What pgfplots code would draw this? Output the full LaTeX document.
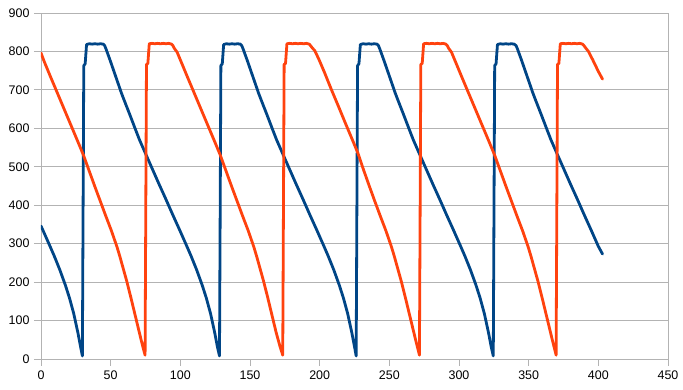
\documentclass[border=0pt]{standalone}
\usepackage{fontspec}
\setmainfont{Liberation Sans}
\usepackage{pgfplots}
\pgfplotsset{compat=1.18}
\definecolor{lobl}{HTML}{004586}
\definecolor{loor}{HTML}{FF420E}
\definecolor{grd}{HTML}{B3B3B3}
\begin{document}
\begin{tikzpicture}
\begin{axis}[
  scale only axis, width=627bp, height=346bp,
  xmin=0, xmax=450, ymin=0, ymax=900,
  xtick={0,50,...,450}, ytick={0,100,...,900},
  tick align=outside, tick pos=left, major tick length=7bp,
  every tick/.style={grd, line width=0.8bp},
  axis line style={grd, line width=0.8bp},
  ymajorgrids, grid style={grd, line width=0.8bp},
  /pgf/number format/assume math mode=true,
  ticklabel style={font=\fontsize{12.5}{14}\selectfont, text=black},
  xticklabel style={yshift=-1bp},
  yticklabel style={xshift=-1bp},
  every axis plot/.style={line width=2.8bp, line join=round, line cap=round, mark=none},
]
\addplot[lobl] coordinates {
(0,346) (1.5,334) (6.5,293) (9.5,268) (13.5,232) (17.5,192) (20.5,158) (23.5,118) (26.5,68) (28.5,30)
(29.7,8) (30.7,763) (31.7,768) (32.7,818) (34.7,820) (36.7,819) (38.7,820) (40.7,819) (42.7,820) (44.7,819)
(45.7,815) (46.7,806) (47.7,796) (49.7,776) (53.7,734) (57.7,692) (59.7,673) (63.7,636) (67.7,598) (70.7,570)
(74.7,537) (79.7,496) (84.7,455) (89.7,415) (94.7,374) (99.7,334) (104.7,293) (107.7,268) (111.7,232) (115.7,192)
(118.7,158) (121.7,118) (124.7,68) (126.7,30)
(128.1,8) (129.1,763) (130.1,768) (131.1,818) (133.1,820) (135.1,819) (137.1,820) (139.1,819) (141.1,820) (143.1,819)
(144.1,815) (145.1,806) (146.1,796) (148.1,776) (152.1,734) (156.1,692) (158.1,673) (162.1,636) (166.1,598) (169.1,570)
(173.1,537) (178.1,496) (183.1,455) (188.1,415) (193.1,374) (198.1,334) (203.1,293) (206.1,268) (210.1,232) (214.1,192)
(217.1,158) (220.1,118) (223.1,68) (225.1,30)
(226.2,8) (227.2,763) (228.2,768) (229.2,818) (231.2,820) (233.2,819) (235.2,820) (237.2,819) (239.2,820) (241.2,819)
(242.2,815) (243.2,806) (244.2,796) (246.2,776) (250.2,734) (254.2,692) (256.2,673) (260.2,636) (264.2,598) (267.2,570)
(271.2,537) (276.2,496) (281.2,455) (286.2,415) (291.2,374) (296.2,334) (301.2,293) (304.2,268) (308.2,232) (312.2,192)
(315.2,158) (318.2,118) (321.2,68) (323.2,30)
(324.6,8) (325.6,763) (326.6,768) (327.6,818) (329.6,820) (331.6,819) (333.6,820) (335.6,819) (337.6,820) (339.6,819)
(341,815) (342,806) (343,796) (345,776) (349,734) (353,692) (355,673) (359,636) (363,598) (366,570)
(370,537) (375,496) (380,455) (385,415) (390,374) (395,334) (400,293) (403,273)
};
\addplot[loor] coordinates {
(0,796) (2.5,772) (6.5,737) (11.5,694) (16.5,651) (21.5,608) (26.5,565) (30.5,530) (34.5,490) (38.5,450)
(42.5,411) (46.5,372) (50.5,334) (54.5,292) (56.5,268) (58.5,242) (61.5,203) (64.5,160) (67.5,115) (70.5,70) (73.0,33)
(74.7,10) (75.7,766) (76.7,769) (77.7,820) (79.7,821) (81.7,820) (83.7,821) (85.7,820) (87.7,821) (89.7,820)
(91.7,821) (93.7,819) (94.7,815) (95.7,808) (97.7,798) (100.7,772) (104.7,737) (109.7,694) (114.7,651) (119.7,608)
(124.7,565) (128.7,530) (132.7,490) (136.7,450) (140.7,411) (144.7,372) (148.7,334) (152.7,292) (154.7,268) (156.7,242)
(159.7,203) (162.7,160) (165.7,115) (168.7,70) (171.5,33)
(173.5,10) (174.5,766) (175.5,769) (176.5,820) (178.5,821) (180.5,820) (182.5,821) (184.5,820) (186.5,821) (188.5,820)
(190.5,821) (192.5,819) (193.5,815) (194.5,810) (196.5,802) (199.5,779) (203.5,745) (208.5,700) (213.5,657) (218.5,613)
(223.5,570) (227.5,535) (231.5,492) (235.5,451) (239.5,411) (243.5,372) (247.5,334) (251.5,292) (253.5,268) (255.5,242)
(258.5,203) (261.5,160) (264.5,115) (267.5,70) (270.0,33)
(271.6,10) (272.6,766) (273.6,769) (274.6,820) (276.6,821) (278.6,820) (280.6,821) (282.6,820) (284.6,821) (286.6,820)
(288.6,821) (290.6,819) (291.6,815) (292.6,808) (294.6,798) (297.6,772) (301.6,737) (306.6,694) (311.6,651) (316.6,608)
(321.6,565) (325.6,530) (329.6,490) (333.6,450) (337.6,411) (341.6,372) (345.6,334) (349.6,292) (351.6,268) (353.6,242)
(356.6,203) (359.6,160) (362.6,115) (365.6,70) (368.1,33)
(369.7,10) (370.7,766) (371.7,769) (372.7,820) (374.7,821) (376.7,820) (378.7,821) (380.7,820) (382.7,821) (384.7,820)
(386.7,821) (388.7,819) (389.7,815) (390.7,810) (392.9,800) (396,778) (400,748) (403,728)
};
\end{axis}
\draw[grd, line width=0.8bp] (current axis.south east) -- (current axis.north east);
\pgfresetboundingbox
\path ([xshift=-41bp,yshift=-31bp]current axis.south west) rectangle ([xshift=15bp,yshift=13bp]current axis.north east);
\end{tikzpicture}
\end{document}
